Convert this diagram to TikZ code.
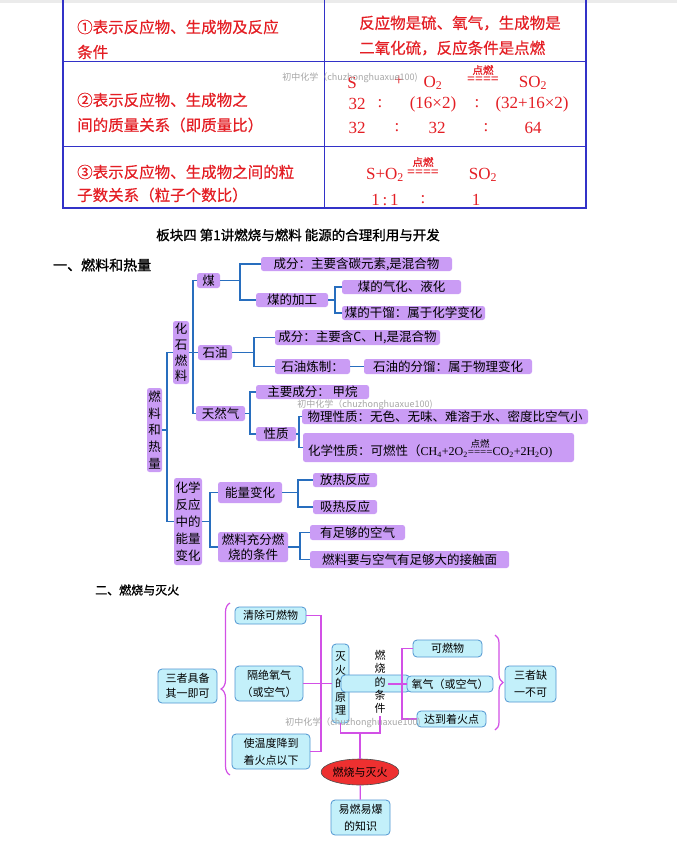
\documentclass[tikz,border=0pt]{standalone}
\usepackage{fontspec}
\setmainfont{Noto Sans CJK SC}
\newfontfamily\tnr{Liberation Serif}
\newfontfamily\cjkb[FakeBold=1.2]{Noto Sans CJK SC}
\newfontfamily\cjkm[FakeBold=0.5]{Noto Sans CJK SC}
\usetikzlibrary{shapes.geometric,decorations.pathreplacing,calc}
\definecolor{tabred}{RGB}{228,30,36}
\definecolor{tabblue}{RGB}{50,50,200}
\definecolor{mmpurple}{RGB}{202,156,245}
\definecolor{mmblue}{RGB}{40,110,190}
\definecolor{bcyan}{RGB}{195,240,250}
\definecolor{bborder}{RGB}{80,150,210}
\definecolor{bmag}{RGB}{210,80,230}
\definecolor{ellred}{RGB}{238,48,48}
\newcommand\fsz[2]{\fontsize{#1}{#2}\selectfont}
\newcommand\bx[7]{\node[#1, minimum width={#5pt-#3pt}, minimum height={#6pt-#4pt}] (#2) at ({(#3+#5)/2},{(#4+#6)/2}) {#7};}
\begin{document}
\begin{tikzpicture}[x=1pt,y=-1pt,
  pb/.style={fill=mmpurple, rounded corners=2.5pt, inner sep=0pt, font=\fsz{12.5}{16}, align=center},
  cb/.style={fill=bcyan, draw=bborder, line width=0.8pt, rounded corners=4pt, inner sep=0pt, font=\fsz{11}{17}, align=center},
  bl/.style={draw=mmblue, line width=1.1pt},
  mg/.style={draw=bmag, line width=1.2pt},
  tr/.style={text=tabred, inner sep=0pt, font=\cjkm\fsz{15.5}{20}, anchor=west},
  eq/.style={text=tabred, inner sep=0pt, font=\tnr\fsz{17}{20}},
  eqc/.style={text=tabred, inner sep=0pt, font=\cjkm\fsz{10.5}{11}},
  eqs/.style={text=tabred, inner sep=0pt, font=\tnr\bfseries\fsz{14}{14}},
  wm/.style={text=black!35, inner sep=0pt, font=\fsz{9}{10}},
]
\useasboundingbox (0,0) rectangle (677,846);
\fill[white] (0,0) rectangle (677,846);
\fill[black!8] (0,0) rectangle (677,3);

% ---------- table ----------
\draw[tabblue, line width=0.8pt] (63,61) -- (586,61) (63,146) -- (586,146) (324,0) -- (324,208);
\draw[tabblue, line width=1.8pt] (63,0) -- (63,208) -- (586,208) -- (586,0);

\node[tr] (t1a) at (77,27) {①表示反应物、生成物及反应};
\node[tr] (t1b) at (77,52) {条件};
\node[tr] (t2a) at (77,100) {②表示反应物、生成物之};
\node[tr] (t2b) at (77,125) {间的质量关系（即质量比）};
\node[tr] (t3a) at (77,172) {③表示反应物、生成物之间的粒};
\node[tr] (t3b) at (77,195) {子数关系（粒子个数比）};
\node[tr] (r1a) at (359,23) {反应物是硫、氧气，生成物是};
\node[tr] (r1b) at (359,48) {二氧化硫，反应条件是点燃};

\node[eq] (e1) at (352,83) {S};
\node[eq] (e2) at (399,81) {+};
\node[eq] (e3) at (433,83) {O\textsubscript{2}};
\node[eqc] (e4) at (483,70) {点燃};
\node[eqs] (e5) at (483,80) {====};
\node[eq] (e6) at (533,83) {SO\textsubscript{2}};
\node[eq] (f1) at (357,104) {32};
\node[eq] (f2) at (380,104) {:};
\node[eq] (f3) at (433,104) {(16×2)};
\node[eq] (f4) at (477,104) {:};
\node[eq] (f5) at (532,104) {(32+16×2)};
\node[eq] (g1) at (357,128) {32};
\node[eq] (g2) at (397,128) {:};
\node[eq] (g3) at (437,128) {32};
\node[eq] (g4) at (486,128) {:};
\node[eq] (g5) at (533,128) {64};
\node[eq] (h1) at (385,175) {S+O\textsubscript{2}};
\node[eqc] (h2) at (423,162) {点燃};
\node[eqs] (h3) at (423,173) {====};
\node[eq] (h4) at (483,175) {SO\textsubscript{2}};
\node[eq] (i1) at (385,200) {1\,:\,1};
\node[eq] (i2) at (423,200) {:};
\node[eq] (i3) at (476,200) {1};

% ---------- headings ----------
\node[font=\cjkb\fsz{13.5}{14}, inner sep=0] (title) at (298,235) {板块四 第1讲燃烧与燃料 能源的合理利用与开发};
\node[font=\cjkb\fsz{14}{14}, anchor=west, inner sep=0] (s1) at (53,265) {一、燃料和热量};
\node[font=\cjkb\fsz{12}{12}, anchor=west, inner sep=0] (s2) at (95,590) {二、燃烧与灭火};

% ---------- mind map ----------
\bx{pb}{m1}{197}{273}{220}{288}{煤}
\bx{pb}{m2}{261}{257}{452}{271}{成分：主要含碳元素,是混合物}
\bx{pb}{m3}{256}{293}{328}{307}{煤的加工}
\bx{pb}{m4}{342}{280}{461}{294}{煤的气化、液化}
\bx{pb}{m5}{342}{306}{485}{320}{煤的干馏：属于化学变化}
\bx{pb}{m6}{275}{330}{440}{345}{成分：主要含C、H,是混合物}
\bx{pb}{m7}{275}{359}{350}{374}{石油炼制：}
\bx{pb}{m8}{364}{359}{532}{374}{石油的分馏：属于物理变化}
\bx{pb}{m9}{198}{345}{232}{360}{石油}
\bx{pb, font=\fsz{12.5}{15.75}}{m10}{173}{321}{189}{384}{化\\石\\燃\\料}
\bx{pb}{m11}{196}{406}{245}{421}{天然气}
\bx{pb}{m12}{256}{385}{369}{399}{主要成分：\ 甲烷}
\bx{pb}{m13}{256}{427}{296}{441}{性质}
\bx{pb}{m14}{302}{409}{588}{424}{物理性质：无色、无味、难溶于水、密度比空气小}
\bx{pb}{m15}{303}{433}{574}{462}{}
\node[anchor=west, inner sep=0, font=\fsz{12.5}{16}] (m15t) at (308,449) {化学性质：可燃性（{\tnr\fsz{12}{16}CH\textsubscript{4}+2O\textsubscript{2}}\shortstack{{\fsz{9.5}{10}点燃}\\[-1pt]{\tnr\fsz{11}{11}====}}{\tnr\fsz{12}{16}CO\textsubscript{2}+2H\textsubscript{2}O)}};
\bx{pb, font=\fsz{12.5}{16.8}}{m16}{147}{388}{162}{472}{燃\\料\\和\\热\\量}
\bx{pb, font=\fsz{12.5}{17}}{m17}{174}{478}{202}{565}{化学\\反应\\中的\\能量\\变化}
\bx{pb}{m18}{218}{482}{282}{503}{能量变化}
\bx{pb, font=\fsz{12.5}{15}}{m19}{218}{532}{288}{562}{燃料充分燃\\烧的条件}
\bx{pb}{m20}{313}{473}{377}{487}{放热反应}
\bx{pb}{m21}{313}{500}{377}{514}{吸热反应}
\bx{pb}{m22}{310}{525}{405}{540}{有足够的空气}
\bx{pb}{m23}{310}{551}{509}{568}{燃料要与空气有足够大的接触面}

\coordinate (j1) at (240,280.5);
\coordinate (j2) at (335,300);
\coordinate (j3) at (254,352.5);
\coordinate (j4) at (250,413.5);
\coordinate (j5) at (299,434);
\coordinate (j6) at (193,352.5);
\coordinate (j7) at (167,430);
\coordinate (j8) at (210,521.5);
\coordinate (j9) at (298,492.5);
\coordinate (j10) at (300,547);

\draw[bl] (m1) -- (j1);  \draw[bl] (j1) |- (m2); \draw[bl] (j1) |- (m3);
\draw[bl] (m3) -- (j2);  \draw[bl] (j2) |- (m4); \draw[bl] (j2) |- (m5);
\draw[bl] (m9) -- (j3);  \draw[bl] (j3) |- (m6); \draw[bl] (j3) |- (m7);
\draw[bl] (m7) -- (m8);
\draw[bl] (m11) -- (j4); \draw[bl] (j4) |- (m12); \draw[bl] (j4) |- (m13);
\draw[bl] (m13) -- (j5); \draw[bl] (j5) |- (m14); \draw[bl] (j5) |- (m15);
\draw[bl] (m10) -- (j6); \draw[bl] (j6) |- (m1); \draw[bl] (j6) -- (m9); \draw[bl] (j6) |- (m11);
\draw[bl] (m16) -- (j7); \draw[bl] (j7) |- (m10); \draw[bl] (j7) |- (m17);
\draw[bl] (m17) -- (j8); \draw[bl] (j8) |- (m18); \draw[bl] (j8) |- (m19);
\draw[bl] (m18) -- (j9); \draw[bl] (j9) |- (m20); \draw[bl] (j9) |- (m21);
\draw[bl] (m19) -- (j10); \draw[bl] (j10) |- (m22); \draw[bl] (j10) |- (m23);

% ---------- combustion & extinguishing ----------
\bx{cb}{b1}{235}{607}{306}{624}{清除可燃物}
\bx{cb}{b2}{235}{666}{303}{701}{隔绝氧气\\（或空气）}
\bx{cb}{b3}{232}{734}{310}{769}{使温度降到\\着火点以下}
\bx{cb, font=\fsz{11}{14.5}}{b4}{158}{669}{217}{703}{三者具备\\其一即可}
\bx{cb, font=\fsz{11}{13.5}}{b5}{332}{644}{349}{723}{灭\\火\\的\\原\\理}
\bx{cb}{b6}{341}{675}{410}{692}{}
\node[font=\fsz{11}{13.25}, align=center, inner sep=0] (b6t) at (380,682) {燃\\烧\\的\\条\\件};
\bx{cb}{b7}{413}{640}{482}{657}{可燃物}
\bx{cb}{b8}{407}{676}{493}{692}{氧气（或空气）}
\bx{cb}{b9}{417}{711}{486}{727}{达到着火点}
\bx{cb}{b10}{505}{666}{556}{702}{三者缺\\一不可}
\node[ellipse, fill=ellred, draw=black!70, line width=0.6pt, minimum width=73pt, minimum height=26pt, inner sep=0, font=\fsz{11}{11}] (b11) at (360,772) {燃烧与灭火};
\bx{cb}{b12}{331}{800}{390}{835}{易燃易爆\\的知识}

\coordinate (k1) at (321,683.5);
\coordinate (k2) at (402,684);
\coordinate (k3) at (388,684);
\coordinate (k4) at (360,733);
\coordinate (k5) at (380,716);

\draw[mg] (b1) -| (k1);
\draw[mg] (b3) -| (k1);
\draw[mg] (b2) -- (b5);
\draw[mg] (k3) -- (b8);
\draw[mg] (b7) -| (k2);
\draw[mg] (b9) -| (k2);
\draw[mg] (b5) |- (k4);
\draw[mg] (k5) |- (k4);
\draw[mg] (k4) -- (b11);
\draw[mg] (b11) -- (b12);
\draw[mg, decorate, decoration={brace, amplitude=9pt}] (230,775) -- (230,603);
\draw[mg, decorate, decoration={brace, amplitude=8pt}] (495,635) -- (495,730);

% ---------- watermarks ----------
\node[wm] (w1) at (350,78) {初中化学（chuzhonghuaxue100)};
\node[wm] (w2) at (365,405) {初中化学（chuzhonghuaxue100)};
\node[wm] (w3) at (353,723) {初中化学（chuzhonghuaxue100)};
\end{tikzpicture}
\end{document}
